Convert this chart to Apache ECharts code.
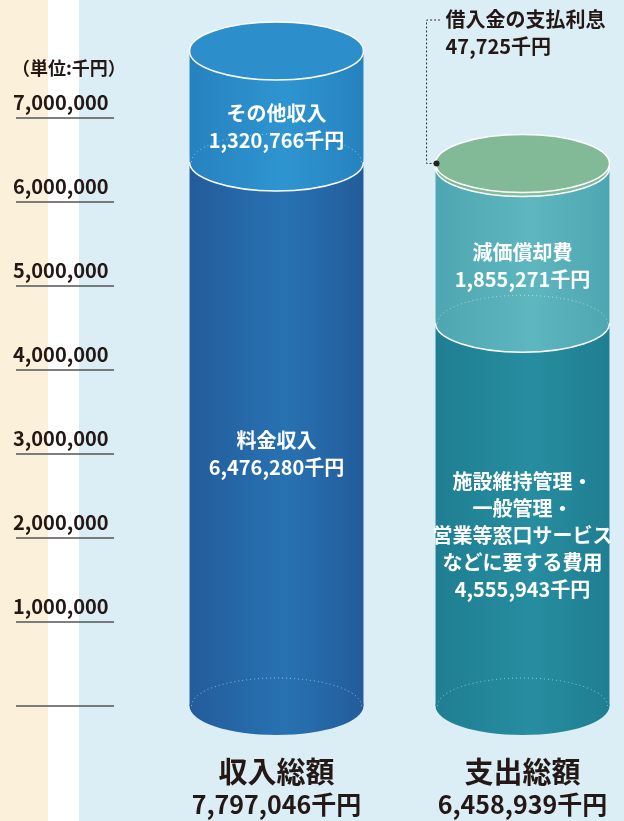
<!DOCTYPE html>
<html lang="ja">
<head>
<meta charset="utf-8">
<title>収入総額・支出総額</title>
<script src="https://cdn.jsdelivr.net/npm/echarts@6/dist/echarts.min.js"></script>
<style>
  html, body { margin: 0; padding: 0; }
  #chart {
    width: 624px;
    height: 821px;
    background: linear-gradient(to right, #FBF0D9 0, #FBF0D9 48px, #FFFFFF 48px, #FFFFFF 79px, #DCEEF5 79px);
  }
</style>
</head>
<body>
<div id="chart"></div>
<script>
const categories = ['収入総額', '支出総額'];
const totalValues = [7797046, 6458939];

const incomeNames = ['料金収入', 'その他収入'];
const incomeValues = [6476280, 1320766];

const expenseNames = ['施設維持管理・\n一般管理・\n営業等窓口サービス\nなどに要する費用', '減価償却費', '借入金の支払利息'];
const expenseValues = [4555943, 1855271, 47725];

const tickLabels = ['', '1,000,000', '2,000,000', '3,000,000', '4,000,000', '5,000,000', '6,000,000', '7,000,000'];

const FONT = '"Noto Sans CJK JP", "Noto Sans", sans-serif';
const INK = '#231815';

// colours: [edge, middle] of each body, bottom to top
const incomeColors = [['#235C9B', '#2872B2'], ['#2682BF', '#2E95D0']];
const expenseColors = [['#1F7E92', '#278DA0'], ['#4DA6B1', '#5EB7BF'], ['#7FB795', '#86BE9B']];
const topFaceColors = ['#2C8FCB', '#82BA98'];

const fmt = (v) => v.toLocaleString('en-US');

function buildSegments(catIndex, names, values, colors) {
  let acc = 0;
  return values.map((v, i) => {
    const start = acc;
    acc += v;
    const last = i === values.length - 1;
    return {
      value: [catIndex, start, acc],
      colors: colors[i],
      first: i === 0,
      top: last,
      face: last ? topFaceColors[catIndex] : null,
      callout: last && v < 100000,
      label: `${names[i]}\n${fmt(v)}千円`,
      name: names[i],
      raw: v
    };
  });
}

const segments = [
  ...buildSegments(0, incomeNames, incomeValues, incomeColors),
  ...buildSegments(1, expenseNames, expenseValues, expenseColors)
];

function halfEllipse(cx, cy, rx, ry) {
  const pts = [];
  for (let k = 0; k <= 48; k++) {
    const t = Math.PI + (Math.PI * k) / 48;
    pts.push([cx + rx * Math.cos(t), cy + ry * Math.sin(t)]);
  }
  return pts;
}

function renderCylinder(params, api) {
  const seg = segments[params.dataIndex];
  const cat = api.value(0);
  const base = api.coord([cat, api.value(1)]);
  const top = api.coord([cat, api.value(2)]);
  const w = api.size([1, 0])[0] * 0.707;
  const rx = w / 2;
  const ry = 29;
  const cx = base[0];
  const [c0, c1] = seg.colors;
  const grad = () => new echarts.graphic.LinearGradient(0, 0, 1, 0, [
    { offset: 0, color: c0 }, { offset: 0.55, color: c1 }, { offset: 1, color: c0 }
  ]);

  const children = [
    {
      type: 'ellipse',
      shape: { cx, cy: base[1], rx, ry },
      style: { fill: grad(), stroke: seg.first ? null : '#FFFFFF', lineWidth: 1.5 }
    },
    {
      type: 'rect',
      shape: { x: cx - rx, y: top[1], width: w, height: base[1] - top[1] },
      style: { fill: grad() }
    },
    {
      type: 'polyline',
      shape: { points: halfEllipse(cx, base[1], rx - 2, ry - 1) },
      style: { fill: null, stroke: 'rgba(255,255,255,0.5)', lineWidth: 1, lineDash: [1, 3] }
    }
  ];

  if (seg.top) {
    children.push({
      type: 'ellipse',
      shape: { cx, cy: top[1], rx, ry },
      style: { fill: seg.face, stroke: '#FFFFFF', lineWidth: 1.5 }
    });
  }

  if (seg.callout) {
    const lx = cx - rx - 9;
    children.push({
      type: 'polyline',
      shape: { points: [[cx - rx, top[1]], [lx, top[1]], [lx, 20], [cx - rx + 6, 20]] },
      style: { fill: null, stroke: '#333333', lineWidth: 1, lineDash: [2, 2] }
    });
    children.push({
      type: 'circle',
      shape: { cx: cx - rx + 1, cy: top[1], r: 3 },
      style: { fill: '#222222' }
    });
    children.push({
      type: 'text',
      style: {
        text: `${seg.name}\n${fmt(seg.raw)}千円`,
        x: cx - rx + 10, y: 6,
        align: 'left', verticalAlign: 'top',
        fill: INK, fontSize: 20, fontWeight: 'bold', fontFamily: FONT, lineHeight: 27
      }
    });
  } else {
    children.push({
      type: 'text',
      style: {
        text: seg.label,
        x: cx, y: (base[1] + top[1]) / 2 + ry * 0.7,
        align: 'center', verticalAlign: 'middle',
        fill: '#FFFFFF', fontSize: 20, fontWeight: 'bold', fontFamily: FONT, lineHeight: 27
      }
    });
  }

  return { type: 'group', children };
}

const chart = echarts.init(document.getElementById('chart'), null, { renderer: 'canvas' });

chart.setOption({
  animation: false,
  backgroundColor: 'transparent',
  title: {
    text: '（単位:千円）',
    left: 7,
    top: 54,
    textStyle: { fontSize: 18, fontWeight: 'bold', color: INK, fontFamily: FONT }
  },
  grid: [
    { left: 16, width: 98, top: 118, bottom: 115 },
    { left: 276.5, right: 101.5, top: 34, bottom: 115 }
  ],
  xAxis: [
    { type: 'value', gridIndex: 0, show: false, min: 0, max: 1 },
    {
      type: 'category',
      gridIndex: 1,
      data: categories,
      boundaryGap: false,
      axisLine: { show: false },
      axisTick: { show: false },
      axisLabel: {
        interval: 0,
        margin: 49,
        formatter: (name, i) => `{a|${name}}\n{b|${fmt(totalValues[i])}千円}`,
        rich: {
          a: { fontSize: 29, fontWeight: 'bold', color: INK, fontFamily: FONT, lineHeight: 34 },
          b: { fontSize: 25, fontWeight: 'bold', color: INK, fontFamily: FONT, lineHeight: 31 }
        }
      }
    }
  ],
  yAxis: [
    {
      type: 'value',
      gridIndex: 0,
      min: 0,
      max: 7000000,
      interval: 1000000,
      axisLine: { show: false },
      axisTick: { show: false },
      splitLine: { lineStyle: { color: '#555555', width: 1.5 } },
      axisLabel: {
        inside: true,
        margin: -3,
        align: 'left',
        verticalAlign: 'bottom',
        padding: [0, 0, 6, 0],
        formatter: (v) => tickLabels[Math.round(v / 1000000)] || '',
        fontSize: 20,
        fontWeight: 'bold',
        color: INK,
        fontFamily: FONT
      }
    },
    { type: 'value', gridIndex: 1, show: false, min: 0, max: 8000000 }
  ],
  series: [
    {
      type: 'custom',
      xAxisIndex: 1,
      yAxisIndex: 1,
      clip: false,
      renderItem: renderCylinder,
      encode: { x: 0, y: [1, 2] },
      data: segments.map((s) => s.value)
    }
  ]
});

window.addEventListener('resize', () => chart.resize());
</script>
</body>
</html>
